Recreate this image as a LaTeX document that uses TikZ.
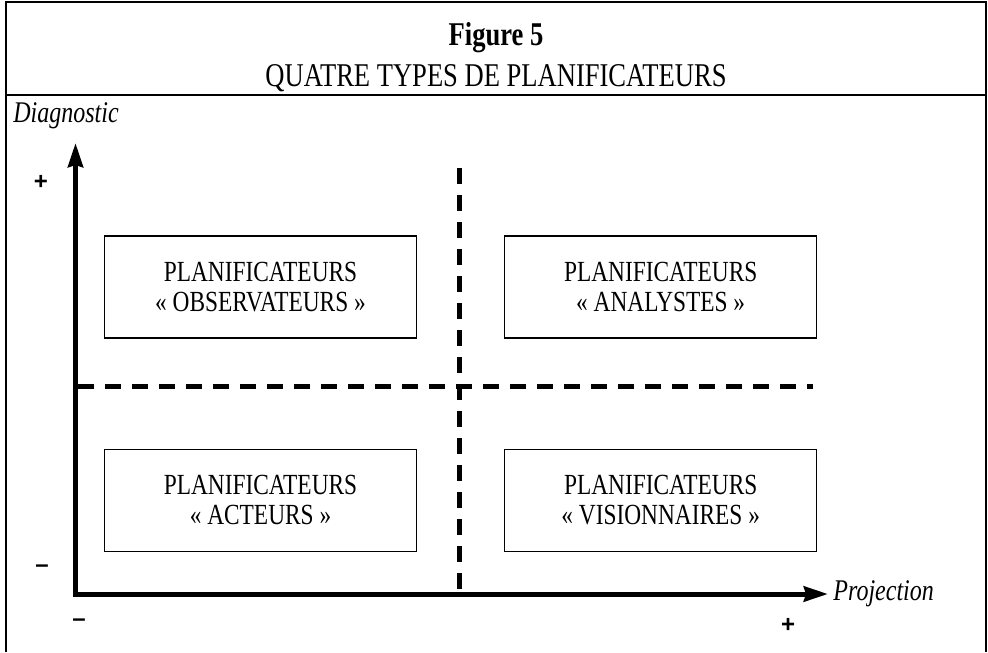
\documentclass[tikz,border=0pt]{standalone}
\usepackage{fontspec}
\setmainfont{Liberation Serif}[FakeStretch=0.8]
\newfontfamily\signfont{Liberation Sans}
\usetikzlibrary{arrows.meta}
\usetikzlibrary{positioning}

\begin{document}
\begin{tikzpicture}[x=0.5pt, y=-0.5pt,
	quadrant/.style={draw, line width=0.6pt, inner sep=0pt, align=center,
	                 minimum width=156pt, minimum height=51pt,
	                 font=\fontsize{14.6}{15}\selectfont},
	axis/.style={line width=2.5pt,
	             {Stealth[length=12pt, width=7.5pt, inset=1pt]}-{Stealth[length=12pt, width=7.5pt, inset=1pt]}},
	split/.style={line width=2.5pt, dash pattern=on 8pt off 5.5pt},
	sign/.style={inner sep=0pt, font=\signfont\bfseries\fontsize{12}{12}\selectfont}]
	\useasboundingbox (0,0) rectangle (988,652);

	% frame and title
	\draw[line width=1pt] (6,652) -- (6,2) -- (986,2) -- (986,652);
	\draw[line width=1pt] (6,95) -- (986,95);
	\node (fig) at (496,46) [anchor=base, inner sep=0pt, font=\fontsize{16.6}{18}\selectfont\bfseries] {Figure 5};
	\node (title) at (496,87) [anchor=base, inner sep=0pt, font=\fontsize{16.6}{18}\selectfont] {QUATRE TYPES DE PLANIFICATEURS};

	% axes
	\coordinate (origin) at (75.5,594);
	\coordinate (ytop) at (75.5,143);
	\coordinate (xend) at (828,594);
	\draw[axis] (ytop) -- (origin) -- (xend);
	\node (ylabel) at (13,123) [anchor=base west, inner sep=0pt, font=\itshape\fontsize{15}{15}\selectfont] {Diagnostic};
	\node (xlabel) [right=2.5pt of xend, anchor=west, inner sep=0pt, font=\itshape\fontsize{15}{15}\selectfont] {Projection};

	\node[sign] (yplus) at (41,182) {+};
	\node[sign] (yminus) at (42,569) {–};
	\node[sign] (xminus) at (79,623) {–};
	\node[sign] (xplus) at (788,625) {+};

	% dashed split
	\coordinate (vtop) at (459,168);
	\coordinate (vbot) at (459,594);
	\coordinate (hleft) at (78,386);
	\coordinate (hright) at (813,386);
	\draw[split] (vtop) -- (vbot);
	\draw[split] (hleft) -- (hright);

	% the four boxes
	\node[quadrant] (obs) at (260.5,287) {PLANIFICATEURS\\« OBSERVATEURS »};
	\node[quadrant] (ana) [right=43.5pt of obs] {PLANIFICATEURS\\« ANALYSTES »};
	\node[quadrant] (act) [below=55pt of obs] {PLANIFICATEURS\\« ACTEURS »};
	\node[quadrant] (vis) [below=55pt of ana] {PLANIFICATEURS\\« VISIONNAIRES »};
\end{tikzpicture}
\end{document}
